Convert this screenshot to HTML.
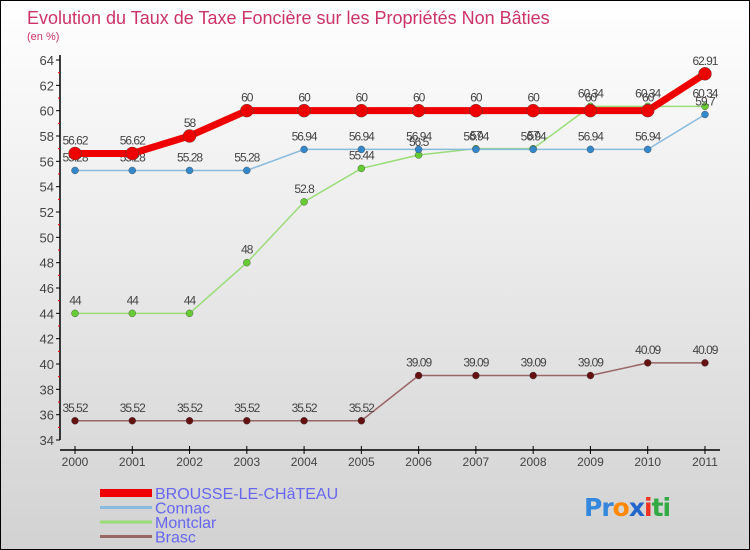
<!DOCTYPE html>
<html><head><meta charset="utf-8"><style>
body{margin:0;width:750px;height:550px;overflow:hidden;font-family:"Liberation Sans",sans-serif}
svg{display:block}
</style></head><body>
<svg id="chart" width="750" height="550" xmlns="http://www.w3.org/2000/svg">
<defs><linearGradient id="bg" x1="0" y1="0" x2="0" y2="1"><stop offset="0" stop-color="#ffffff"/><stop offset="1" stop-color="#d2d2d2"/></linearGradient></defs>
<rect x="0.5" y="0.5" width="749" height="549" fill="url(#bg)" stroke="#000"/>
<text x="27" y="24" font-size="18" fill="#cc3366">Evolution du Taux de Taxe Foncière sur les Propriétés Non Bâties</text>
<text x="27" y="40" font-size="11" fill="#cc3366">(en %)</text>
<g id="axes"></g>
<g id="series"></g>
<g id="legend"></g>
<text x="584" y="516" font-size="25" font-family="'DejaVu Sans',sans-serif" font-weight="bold" letter-spacing="-1"><tspan fill="#3388dd">Pr</tspan><tspan fill="#ff8800">o</tspan><tspan fill="#2266cc">x</tspan><tspan fill="#ee3322">i</tspan><tspan fill="#33aa44">ti</tspan></text>
</svg>
<script>
const years=["2000","2001","2002","2003","2004","2005","2006","2007","2008","2009","2010","2011"];
const yTicks=[34,36,38,40,42,44,46,48,50,52,54,56,58,60,62,64];
const brousse=[56.62,56.62,58,60,60,60,60,60,60,60,60,62.91];
const connac=[55.28,55.28,55.28,55.28,56.94,56.94,56.94,56.94,56.94,56.94,56.94,59.7];
const montclar=[44,44,44,48,52.8,55.44,56.5,57,57,60.34,60.34,60.34];
const brasc=[35.52,35.52,35.52,35.52,35.52,35.52,39.09,39.09,39.09,39.09,40.09,40.09];
const NS="http://www.w3.org/2000/svg";
const X=i=>75+i*57.27;
const Y=v=>60+(64-v)*12.667;
function mk(t,a,p){const e=document.createElementNS(NS,t);for(const k in a)e.setAttribute(k,a[k]);p.appendChild(e);return e;}
const ax=document.getElementById('axes');
let yl=mk('line',{x1:60,y1:55,x2:60,y2:440,stroke:'#000','stroke-width':1.5},ax);


yTicks.forEach(v=>{
 mk('line',{x1:56,x2:60,y1:Y(v),y2:Y(v),stroke:'#000'},ax);
 if(v<64) mk('line',{x1:58,x2:60,y1:Y(v+1),y2:Y(v+1),stroke:'#e00'},ax);
 const t=mk('text',{x:54,y:Y(v)+5,'text-anchor':'end','font-size':13,fill:'#444'},ax);t.textContent=v;
 
 
});
let xl=mk('line',{x1:60,y1:450,x2:720,y2:450,stroke:'#000','stroke-width':1.5},ax);


years.forEach((y,i)=>{
 mk('line',{x1:X(i),x2:X(i),y1:446,y2:454,stroke:'#000'},ax);
 const t=mk('text',{x:X(i),y:466,'text-anchor':'middle','font-size':12,fill:'#444'},ax);t.textContent=y;
 
 
});
const sg=document.getElementById('series');
function series(vals,name,col,dot,lw,r){
 const g=mk('g',{},sg);
 
 
 const pl=mk('polyline',{points:vals.map((v,i)=>X(i)+','+Y(v)).join(' '),fill:'none',stroke:col,'stroke-width':lw},g);
 
 
 vals.forEach((v,i)=>{
  const c=mk('circle',{cx:X(i),cy:Y(v),r:r,fill:dot,stroke:'#444','stroke-width':0.4},g);
  
  
  const t=mk('text',{x:X(i),y:Y(v)-9,'text-anchor':'middle','font-size':12,fill:'#444','letter-spacing':-1},g);t.textContent=v;
  
  
 });
}
series(brasc,'brasc','#996666','#661111',1.5,3.5);
series(montclar,'montclar','#99dd77','#66cc33',1.5,3.5);
series(connac,'connac','#88bbdd','#3388cc',1.5,3.5);
series(brousse,'brousse','#ee0000','#ee0000',7,6.5);
const lg=document.getElementById('legend');
[['BROUSSE-LE-CHâTEAU','#ee0000',8],['Connac','#88bbdd',3],['Montclar','#99dd77',3],['Brasc','#996666',3]].forEach((d,i)=>{
 const y=493+i*14.5;
 const g=mk('g',{},lg);
 
 
 mk('line',{x1:100,x2:152,y1:y,y2:y,stroke:d[1],'stroke-width':d[2]},g);
 const t=mk('text',{x:155,y:y+6,'font-size':16,fill:'#6666ee'},g);t.textContent=d[0];
});
</script>
</body></html>
